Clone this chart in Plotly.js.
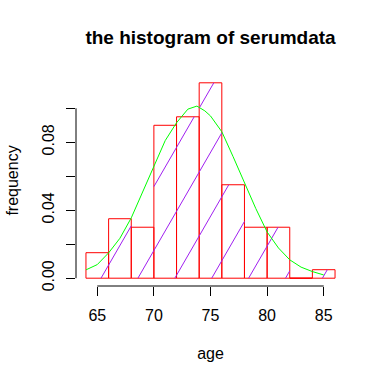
<!DOCTYPE html>
<html>
<head>
<meta charset="utf-8">
<script src="https://cdn.plot.ly/plotly-3.0.1.min.js"></script>
<style>html,body{margin:0;padding:0;background:#fff;}#chart{width:367px;height:375px;}</style>
</head>
<body>
<div id="chart"></div>
<script>
// ---- data ----
const breaks = [64, 66, 68, 70, 72, 74, 76, 78, 80, 82, 84, 86];
const counts = [3, 7, 6, 18, 19, 23, 11, 6, 6, 0, 1];
const densX = [64, 65, 66, 67, 68, 69, 70, 71, 72, 73, 73.8, 74.5, 75, 76, 77, 78, 79, 80, 81, 82, 83, 84, 85];
const densY = [0.0049, 0.0080, 0.0149, 0.0235, 0.0355, 0.051, 0.0666, 0.081, 0.0915, 0.0995, 0.1013, 0.0985, 0.0955, 0.0862, 0.0715, 0.0559, 0.041, 0.0272, 0.0178, 0.0108, 0.0065, 0.0039, 0.0019];
const xTicks = [65, 70, 75, 80, 85];
const yTicks = [0, 0.02, 0.04, 0.06, 0.08, 0.10];
const yTickText = ['0.00', '', '0.04', '', '0.08', ''];

// ---- derived ----
const n = counts.reduce((a, b) => a + b, 0);
const mids = [], widths = [], dens = [];
for (let i = 0; i < counts.length; i++) {
  const w = breaks[i + 1] - breaks[i];
  mids.push((breaks[i] + breaks[i + 1]) / 2);
  widths.push(w);
  dens.push(counts[i] / (n * w));
}
const b0 = breaks[0], bN = breaks[breaks.length - 1];
const maxD = Math.max(...dens);
const xRange = [b0 - 0.04 * (bN - b0), bN + 0.04 * (bN - b0)];
const yRange = [-0.04 * maxD, 1.04 * maxD];

// layout geometry
const W = 367, H = 375;
const M = {l: 76, r: 22, t: 75, b: 89};
const plotW = W - M.l - M.r, plotH = H - M.t - M.b;
const pxX = plotW / (xRange[1] - xRange[0]);
const pxY = plotH / (yRange[1] - yRange[0]);

// hatching (60 degree lines in pixel space, like R's density shading)
const hatchPhase = 65.33, hatchSpacing = 36.9, hatchAngle = 60;
const t = Math.tan(hatchAngle * Math.PI / 180);
const hx = [], hy = [];
const phasePx = (hatchPhase - xRange[0]) * pxX;
for (let i = 0; i < counts.length; i++) {
  const xl = (breaks[i] - xRange[0]) * pxX;
  const xr = (breaks[i + 1] - xRange[0]) * pxX;
  const yt = dens[i] * pxY;
  if (yt <= 0) continue;
  for (let k = -30; k <= 30; k++) {
    const c = phasePx + k * hatchSpacing;
    const ylo = Math.max(0, (xl - c) * t);
    const yhi = Math.min(yt, (xr - c) * t);
    if (yhi - ylo > 0.01) {
      hx.push(xRange[0] + (c + ylo / t) / pxX, xRange[0] + (c + yhi / t) / pxX, null);
      hy.push(ylo / pxY, yhi / pxY, null);
    }
  }
}
// zero-height bins: R still draws the rectangle as a flat line
const zx = [], zy = [];
for (let i = 0; i < counts.length; i++) {
  if (counts[i] === 0) { zx.push(breaks[i], breaks[i + 1], null); zy.push(0, 0, null); }
}

const font = 'Liberation Sans, Arial, sans-serif';
const traces = [
  {type: 'bar', x: mids, y: dens, width: widths,
   marker: {color: 'rgba(0,0,0,0)', line: {color: '#FF0000', width: 1}},
   hoverinfo: 'x+y', showlegend: false},
  {type: 'scatter', mode: 'lines', x: hx, y: hy, line: {color: '#A020F0', width: 1},
   hoverinfo: 'skip', showlegend: false},
  {type: 'scatter', mode: 'lines', x: zx, y: zy, line: {color: '#FF0000', width: 1},
   hoverinfo: 'skip', showlegend: false},
  {type: 'scatter', mode: 'lines', x: densX, y: densY, line: {color: '#00FF00', width: 1},
   hoverinfo: 'x+y', showlegend: false}
];

const layout = {
  width: W, height: H,
  margin: M,
  paper_bgcolor: '#ffffff', plot_bgcolor: '#ffffff',
  font: {family: font, size: 16, color: '#000000'},
  title: {text: 'the histogram of serumdata', font: {family: font, size: 19, color: '#000', weight: 'bold'},
          x: (M.l + plotW / 2) / W, xanchor: 'center', y: 1 - 37 / H, yanchor: 'middle', xref: 'container', yref: 'container'},
  barmode: 'overlay', bargap: 0,
  xaxis: {range: xRange, tickvals: xTicks, ticktext: xTicks.map(String), ticks: 'outside', ticklen: 9,
          tickcolor: '#000', tickwidth: 1, showgrid: false, zeroline: false, showline: false,
          ticklabelstandoff: 6,
          tickfont: {family: font, size: 16, color: '#000'},
          title: {text: 'age', font: {family: font, size: 16, color: '#000'}, standoff: 24},
          automargin: false, fixedrange: true},
  yaxis: {range: yRange, tickvals: yTicks, ticktext: yTickText, ticks: 'outside', ticklen: 9,
          tickcolor: '#000', tickwidth: 1, showgrid: false, zeroline: false, showline: false,
          ticklabelstandoff: 6,
          tickangle: -90, tickfont: {family: font, size: 16, color: '#000'},
          title: {text: 'frequency', font: {family: font, size: 16, color: '#000'}, standoff: 16},
          automargin: false, fixedrange: true},
  shapes: [
    {type: 'line', xref: 'x', yref: 'paper', x0: xTicks[0], x1: xTicks[xTicks.length - 1], y0: 0, y1: 0,
     line: {color: '#000', width: 1}},
    {type: 'line', xref: 'paper', yref: 'y', x0: 0, x1: 0, y0: yTicks[0], y1: yTicks[yTicks.length - 1],
     line: {color: '#000', width: 1}}
  ]
};

Plotly.newPlot('chart', traces, layout, {displayModeBar: false, staticPlot: true});
</script>
</body>
</html>
